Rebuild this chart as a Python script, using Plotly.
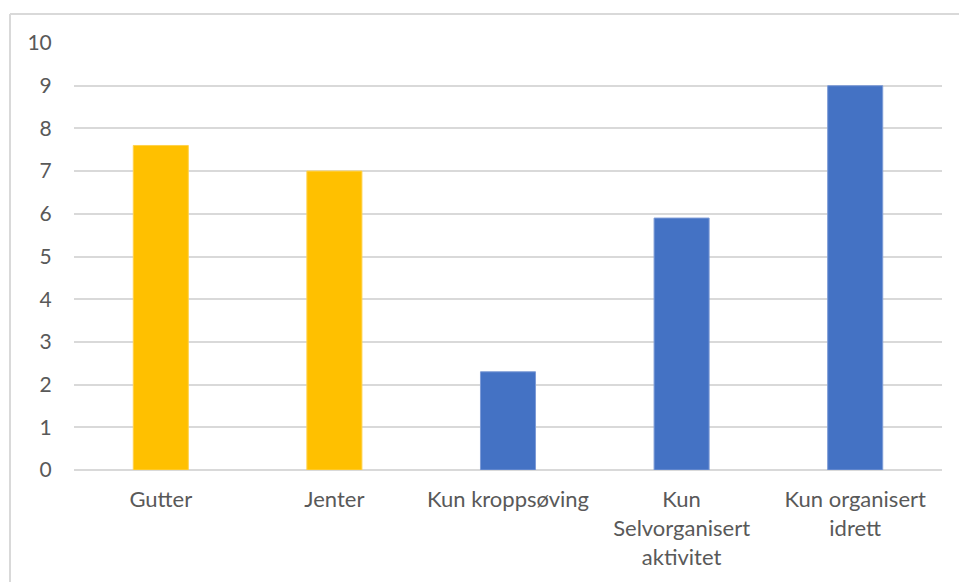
import plotly.graph_objects as go

categories = ["Gutter", "Jenter", "Kun kroppsøving",
              "Kun<br>Selvorganisert<br>aktivitet", "Kun organisert<br>idrett"]
values = [7.6, 7.0, 2.3, 5.9, 9.0]
groups = ["kjønn", "kjønn", "aktivitet", "aktivitet", "aktivitet"]
y_ticks = [0, 1, 2, 3, 4, 5, 6, 7, 8, 9, 10]

group_colors = {"kjønn": "#FFC000", "aktivitet": "#4472C4"}
group_edges = {"kjønn": "#FFD24D", "aktivitet": "#7D9BD6"}

W, H = 959, 582
ML, MR, MT, MB = 74, 17, 43, 112
pw, ph = W - ML - MR, H - MT - MB

fig = go.Figure(go.Bar(
    x=categories, y=values,
    marker=dict(color=[group_colors[g] for g in groups],
                line=dict(color=[group_edges[g] for g in groups], width=1)),
    hoverinfo="x+y",
))

font_family = "Lato, 'Liberation Sans', Arial, sans-serif"
fig.update_layout(
    width=W, height=H, autosize=False,
    margin=dict(l=ML, r=MR, t=MT, b=MB, pad=0),
    paper_bgcolor="white", plot_bgcolor="white",
    bargap=0.683,
    showlegend=False,
    font=dict(family=font_family, size=22, color="#595959"),
    xaxis=dict(showgrid=False, showline=False, zeroline=False,
               ticks="outside", ticklen=10, tickcolor="rgba(0,0,0,0)",
               tickfont=dict(size=22, color="#595959"), tickangle=0),
    yaxis=dict(range=[0, 10], tickvals=y_ticks, showgrid=True,
               gridcolor="#D9D9D9", gridwidth=1.6, zeroline=True,
               zerolinecolor="#D9D9D9", zerolinewidth=1.6, showline=False,
               ticks="outside", ticklen=17, tickcolor="rgba(0,0,0,0)",
               tickfont=dict(size=21, color="#595959")),
)

# outer chart border (top and left edges visible)
x_left = (10 - ML) / pw
x_right = (W + 5 - ML) / pw
y_top = 1 + (MT - 14) / ph
y_bot = -(H + 5 - MT - ph) / ph
fig.add_shape(type="line", xref="paper", yref="paper", x0=x_left, x1=x_right,
              y0=y_top, y1=y_top, line=dict(color="#D9D9D9", width=2))
fig.add_shape(type="line", xref="paper", yref="paper", x0=x_left, x1=x_left,
              y0=y_top, y1=y_bot, line=dict(color="#D9D9D9", width=2))

fig.write_html("out.html")
